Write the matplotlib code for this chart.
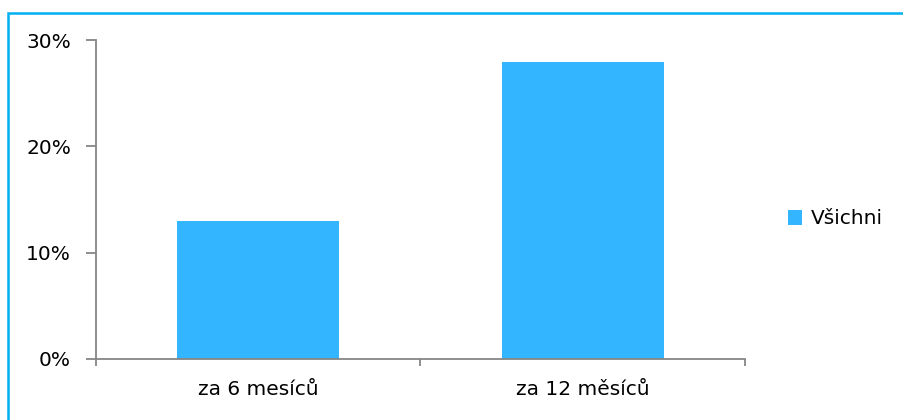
import matplotlib
matplotlib.use('Agg')
import matplotlib.pyplot as plt
from matplotlib.patches import Rectangle, Patch
from matplotlib.ticker import FuncFormatter

# data
categories = ["za 6 mesíců", "za 12 měsíců"]
vsichni = [13.0, 28.0]
series_name = "Všichni"
y_ticks = [0, 10, 20, 30]

plt.rcParams['font.family'] = ['DejaVu Sans']

W, H = 904, 420
fig = plt.figure(figsize=(W / 100, H / 100), dpi=100)
ax = fig.add_axes([96 / W, (H - 358.7) / H, (745 - 96) / W, (358.7 - 40.3) / H])

bar_color = "#33B5FF"
axis_color = "#868686"

x = list(range(len(categories)))
ax.bar(x, vsichni, width=0.5, color=bar_color, zorder=2)

ax.set_xlim(-0.5, len(categories) - 0.5)
ax.set_ylim(0, 30)
ax.set_yticks(y_ticks)
ax.yaxis.set_major_formatter(FuncFormatter(lambda v, p: f"{v:.0f}%"))
ax.set_xticks([-0.5, 0.5, 1.5])
ax.set_xticklabels(["", "", ""])
ax.set_xticks(x, minor=True)
ax.set_xticklabels(categories, minor=True)

for s in ["top", "right"]:
    ax.spines[s].set_visible(False)
for s in ["left", "bottom"]:
    ax.spines[s].set_color(axis_color)
    ax.spines[s].set_linewidth(1.3)

ax.tick_params(axis="y", which="major", length=7, width=1.3, color=axis_color,
               labelsize=14.5, pad=11, labelcolor="black")
ax.tick_params(axis="x", which="major", length=5, width=1.3, color=axis_color)
ax.tick_params(axis="x", which="minor", length=0, labelsize=14.5, pad=15, labelcolor="black")

handles = [Patch(facecolor=bar_color, edgecolor="none", label=series_name)]
fig.legend(handles=handles, loc="center left", bbox_to_anchor=(780 / W, (H - 219) / H),
           frameon=False, fontsize=14.5, handlelength=0.7, handleheight=0.7,
           handletextpad=0.45, borderaxespad=0)

# light blue chart border (only top and left visible in the crop)
fig.patches.append(Rectangle((8 / W, -0.1), 1.2, (H - 13) / H + 0.1, transform=fig.transFigure,
                             fill=False, edgecolor="#00B0F0", linewidth=1.8))

fig.savefig("out.png", dpi=100)
